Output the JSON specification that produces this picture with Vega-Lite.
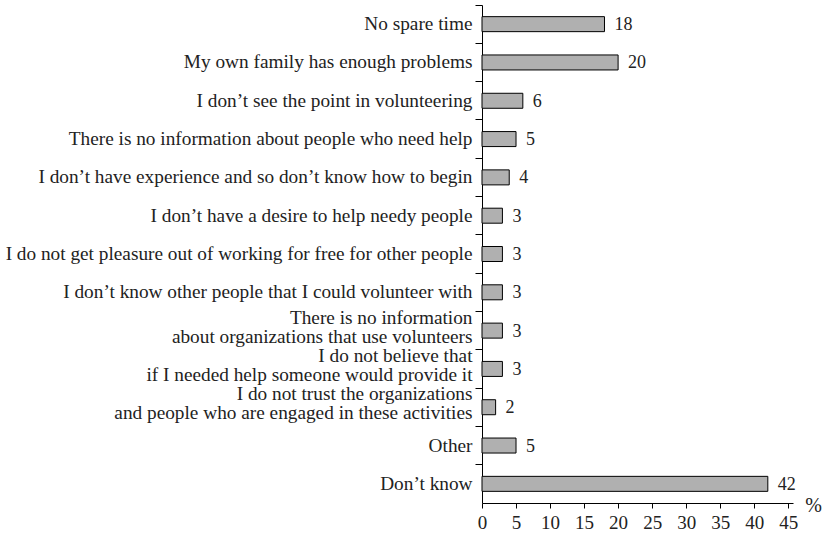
{
  "$schema": "https://vega.github.io/schema/vega-lite/v6.json",
  "width": 311,
  "height": 498,
  "autosize": {"type": "none"},
  "padding": {"left": 482, "top": 5, "right": 33, "bottom": 35},
  "background": "white",
  "config": {
    "view": {"stroke": null},
    "font": "Liberation Serif",
    "axis": {"grid": false, "domainColor": "black", "tickColor": "black", "labelColor": "#222222", "labelFont": "Liberation Serif", "titleFont": "Liberation Serif", "titleFontWeight": "normal", "titleColor": "#222222"}
  },
  "data": {
    "values": [
      {"reason": "No spare time", "value": 18},
      {"reason": "My own family has enough problems", "value": 20},
      {"reason": "I don’t see the point in volunteering", "value": 6},
      {"reason": "There is no information about people who need help", "value": 5},
      {"reason": "I don’t have experience and so don’t know how to begin", "value": 4},
      {"reason": "I don’t have a desire to help needy people", "value": 3},
      {"reason": "I do not get pleasure out of working for free for other people", "value": 3},
      {"reason": "I don’t know other people that I could volunteer with", "value": 3},
      {"reason": "There is no information|about organizations that use volunteers", "value": 3},
      {"reason": "I do not believe that|if I needed help someone would provide it", "value": 3},
      {"reason": "I do not trust the organizations|and people who are engaged in these activities", "value": 2},
      {"reason": "Other", "value": 5},
      {"reason": "Don’t know", "value": 42}
    ]
  },
  "encoding": {
    "y": {
      "field": "reason",
      "type": "nominal",
      "sort": null,
      "scale": {"paddingInner": 0, "paddingOuter": 0},
      "axis": {
        "title": null,
        "bandPosition": 0,
        "labelExpr": "split(datum.label, '|')",
        "labelFontSize": 19.3,
        "labelLineHeight": 19,
        "labelLimit": 0,
        "labelPadding": 3,
        "tickSize": 7,
        "labelBound": false,
        "labelOffset": {"condition": {"test": "indexof(datum.value, '|') >= 0", "value": -13}, "value": 0}
      }
    },
    "x": {
      "field": "value",
      "type": "quantitative",
      "scale": {"domain": [0, 45.7], "nice": false},
      "axis": {
        "values": [0, 5, 10, 15, 20, 25, 30, 35, 40, 45],
        "title": "%",
        "titleFontSize": 20,
        "titleAngle": 0,
        "titleX": 331,
        "titleY": 8,
        "titleAlign": "center",
        "titleBaseline": "alphabetic",
        "labelFontSize": 19,
        "labelPadding": 5,
        "tickSize": 5,
        "labelFlush": false
      }
    }
  },
  "layer": [
    {
      "mark": {"type": "bar", "size": 15, "fill": "#b0b0b0", "stroke": "black", "strokeWidth": 1}
    },
    {
      "mark": {"type": "text", "align": "left", "baseline": "middle", "dx": 10, "dy": 1, "fontSize": 18, "color": "#222222"},
      "encoding": {"text": {"field": "value", "type": "quantitative"}}
    }
  ]
}
